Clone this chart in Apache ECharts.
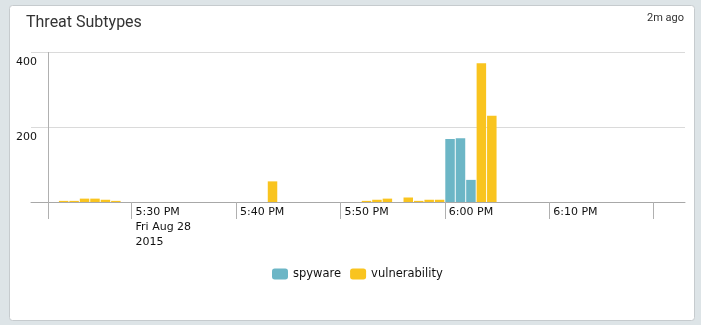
<!DOCTYPE html>
<html>
<head>
<meta charset="utf-8">
<script src="https://cdn.jsdelivr.net/npm/echarts@6/dist/echarts.min.js"></script>
<style>
html,body{margin:0;padding:0;background:#dde4e7;}
#chart{width:701px;height:325px;}
</style>
</head>
<body>
<div id="chart"></div>
<script>
// ---- data (start time of each one-minute bin, Fri Aug 28 2015) ----
const spywareTimes  = ['18:00', '18:01', '18:02'];
const spywareValues = [168, 170, 59];

const vulnerabilityTimes  = ['17:23', '17:24', '17:25', '17:26', '17:27', '17:28', '17:43',
                             '17:52', '17:53', '17:54', '17:56', '17:57', '17:58', '17:59',
                             '18:03', '18:04'];
const vulnerabilityValues = [3, 3, 9, 9, 6, 3, 55,
                             3, 6, 9, 12, 3, 6, 6,
                             370, 230];

const tickTimes  = ['17:30', '17:40', '17:50', '18:00', '18:10', '18:20'];
const tickLabels = ['5:30 PM\nFri Aug 28\n2015', '5:40 PM', '5:50 PM', '6:00 PM', '6:10 PM', ''];
const axisStart = '17:22';
const axisEnd   = '18:23';

// ---- layout ----
const W = 701;
const plotLeft = 48, plotRight = 685, gridLeftExt = 17;

// ---- helpers: time of day -> minutes ----
function mins(hhmm) {
  const p = hhmm.split(':');
  return (+p[0]) * 60 + (+p[1]);
}
const BIN = 1; // one-minute bins, bar drawn at bin centre
function series(times, values) {
  return times.map((t, i) => [mins(t) + BIN / 2, values[i]]);
}
const tickMins = tickTimes.map(mins);
const labelMins = tickMins.filter((v, i) => tickLabels[i] !== '');
// the grid lines run a little to the left of the y axis
const pxPerMin = (plotRight - plotLeft) / (mins(axisEnd) - mins(axisStart));
const xMin = mins(axisStart) - gridLeftExt / pxPerMin;

const chart = echarts.init(document.getElementById('chart'), null, {renderer: 'canvas'});
chart.setOption({
  backgroundColor: '#dde4e7',
  animation: false,
  graphic: [{
    type: 'rect',
    shape: {x: 9.5, y: 5.5, width: 685, height: 315, r: 3},
    style: {fill: '#ffffff', stroke: '#c6cbce', lineWidth: 1},
    z: -10
  }, {
    type: 'text',
    left: 26, top: 15,
    style: {text: 'Threat Subtypes', font: '16px Roboto', fill: '#333333'}
  }, {
    type: 'text',
    right: 17, top: 13,
    style: {text: '2m ago', font: '11px Roboto', fill: '#333333'}
  }],
  grid: {left: plotLeft - gridLeftExt, right: W - plotRight, top: 52, bottom: 123, containLabel: false},
  legend: {
    left: 272, top: 268, padding: 0,
    itemWidth: 16, itemHeight: 11, itemGap: 9,
    icon: 'roundRect',
    textStyle: {fontFamily: 'DejaVu Sans', fontSize: 11.5, color: '#111'},
    data: ['spyware', 'vulnerability']
  },
  xAxis: {
    type: 'value',
    min: xMin,
    max: mins(axisEnd),
    axisLine: {show: true, onZero: false, lineStyle: {color: '#a8a8a8', width: 1}},
    axisTick: {show: true, length: 17, lineStyle: {color: '#b0b0b0'},
               customValues: [mins(axisStart)].concat(tickMins)},
    axisLabel: {
      customValues: labelMins,
      formatter: function (v) {
        const i = tickMins.indexOf(v);
        return i >= 0 ? tickLabels[i] : '';
      },
      align: 'left', verticalAlign: 'top', margin: 3,
      padding: [0, 0, 0, 4],
      lineHeight: 15,
      fontFamily: 'DejaVu Sans', fontSize: 11, color: '#111'
    },
    splitLine: {show: false}
  },
  yAxis: {
    type: 'value',
    min: 0, max: 400, interval: 200,
    axisLine: {show: false},
    axisTick: {show: false},
    axisLabel: {
      showMinLabel: false,
      margin: -6, verticalAlign: 'top', padding: [5, 0, 0, 0],
      fontFamily: 'DejaVu Sans', fontSize: 11, color: '#111'
    },
    splitLine: {show: true, lineStyle: {color: '#dadada'}}
  },
  series: [{
    name: 'spyware', type: 'bar',
    barWidth: 9.5, barGap: '-100%',
    itemStyle: {color: '#6cb6c6'},
    data: series(spywareTimes, spywareValues),
    markLine: {
      silent: true, symbol: 'none', animation: false,
      label: {show: false},
      lineStyle: {color: '#b0b0b0', type: 'solid', width: 1},
      data: [{xAxis: mins(axisStart)}]
    }
  }, {
    name: 'vulnerability', type: 'bar',
    barWidth: 9.5, barGap: '-100%',
    itemStyle: {color: '#f9c41f'},
    data: series(vulnerabilityTimes, vulnerabilityValues)
  }]
});
</script>
</body>
</html>
